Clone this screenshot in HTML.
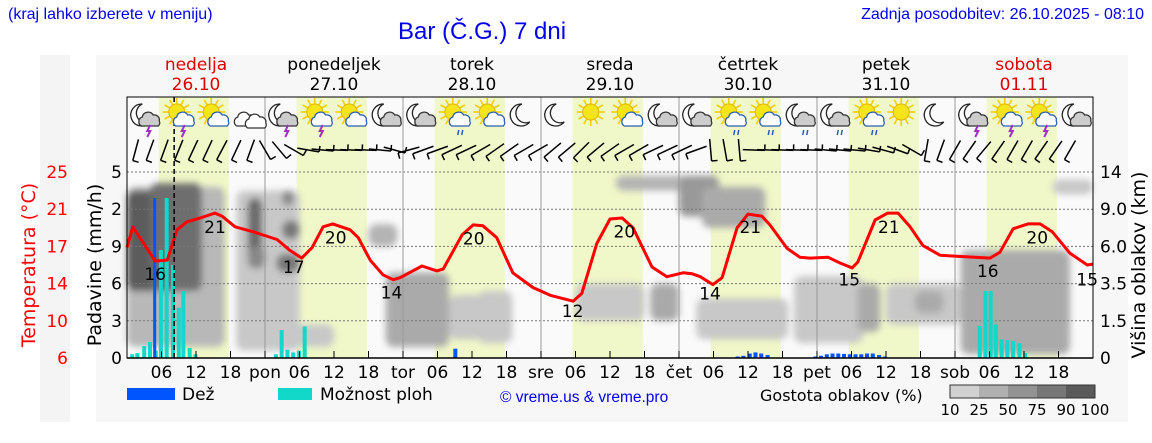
<!DOCTYPE html>
<html><head><meta charset="utf-8">
<style>
body{margin:0;width:1152px;height:443px;background:#fff;overflow:hidden;position:relative;font-family:"DejaVu Sans",sans-serif}
.t{position:absolute;white-space:nowrap}
</style></head>
<body>
<div class="t" style="left:8px;top:6px;font:16px 'Liberation Sans',sans-serif;color:#0000ee">(kraj lahko izberete v meniju)</div>
<div class="t" style="left:398px;top:18px;font:24px 'Liberation Sans',sans-serif;color:#0000ee">Bar (Č.G.) 7 dni</div>
<div class="t" style="right:8px;top:6px;font:16px 'Liberation Sans',sans-serif;color:#0000ee">Zadnja posodobitev: 26.10.2025 - 08:10</div>
<svg id="c" width="1152" height="443" style="position:absolute;left:0;top:0"></svg>
<script>
// ---- data ----
const dayNames=["nedelja","ponedeljek","torek","sreda","četrtek","petek","sobota"];
const dayDates=["26.10","27.10","28.10","29.10","30.10","31.10","01.11"];
const dayAbbr=["","pon","tor","sre","čet","pet","sob"];
const tempHours=[0,1,4.9,7,8.7,10.4,12.7,15.3,16.5,18.8,21.9,26.1,28.3,30.4,32.2,34.1,35.8,38.8,40.2,42.3,44.5,46.3,47.5,51.3,53.9,55,58.3,60.2,61.9,64.3,67.1,70.6,73.6,77.6,79.1,81.7,84,86.1,88,91.3,93.9,96.7,98.3,99.7,101.9,103.5,106.1,108,110.4,111.8,114.8,117,118.8,121.9,124,126.1,127.1,130.1,132.3,134.1,136.2,138.4,141.4,144.3,150.1,151.8,154.1,156.7,158.8,160.9,164,167,168];
const tempValues=[17.3,19.4,15.9,16.0,19.1,19.9,20.3,20.8,20.5,19.4,18.9,18.1,17.0,16.2,17.3,19.4,19.7,19.1,18.3,16.0,14.5,14.0,14.2,15.4,14.9,15.1,18.6,19.6,19.5,18.3,14.7,13.2,12.4,11.8,12.6,17.7,20.2,20.3,19.3,15.3,14.3,14.7,14.6,14.3,13.5,14.2,19.3,20.7,20.5,19.6,17.2,16.3,16.2,16.3,15.7,15.2,15.8,20.1,20.8,20.8,19.4,17.5,16.5,16.4,16.2,16.8,19.2,19.7,19.7,18.9,16.7,15.5,15.6];
const tempLabelHours=[4.9,15.3,29,36.3,46,60.3,77.5,86.5,101.4,108.4,125.6,132.5,149.7,158.3,167];
const tempLabelTexts=["16","21","17","20","14","20","12","20","14","21","15","21","16","20","15"];
const tempLabelValues=[14.6,19.4,15.3,18.3,12.7,18.2,10.8,18.9,12.6,19.4,14.0,19.4,14.9,18.3,14.0];
const showerHours=[0.9,1.8,3,4,5,5.9,6.9,8,9,9.8,10.9,11.9,25.9,26.9,27.9,28.9,29.9,30.9,148.3,149.3,150.2,151.1,152.1,153.1,154.1,155.2,156.2];
const showerValues=[0.1,0.13,0.32,0.43,0.2,2.9,4.3,2.5,1.35,1.8,0.27,0.1,0.1,0.75,0.22,0.15,0.2,0.85,0.86,1.8,1.8,0.9,0.5,0.48,0.46,0.4,0.13];
const rainHours=[4.9,57.1,106.2,107.2,108.3,109.3,110.3,111.4,119.7,120.7,121.7,122.7,123.7,124.7,125.7,126.7,127.7,128.7,129.7,130.8,131.8];
const rainValues=[4.3,0.25,0.04,0.06,0.12,0.15,0.12,0.08,0.04,0.06,0.1,0.12,0.12,0.11,0.1,0.1,0.1,0.12,0.12,0.08,0.04];
// cloud blobs: startHour,endHour,topVal,bottomVal,shade
const cloudH0=[0,0,4,19,21,27,21,27,26,28,42,45,56,61,78,85,91,96,99,100,116,127,132,137,145,161];
const cloudH1=[17,7,13,30,23.5,30,24,29,30,36,47,56,63,67,90,98,96,103,115,111,128,131,145,142,164,168];
const cloudV0=[0.3,1.8,1.8,0.2,2.6,3.2,2.4,4.1,2.3,0.3,3.0,0.3,0.5,0.4,1.0,4.5,1.0,3.8,0.5,3.5,0.4,0.7,0.9,1.2,0.1,4.4];
const cloudV1=[4.6,4.5,4.7,4.5,4.3,3.7,3.0,4.5,2.8,0.9,3.6,2.3,1.7,1.8,2.0,4.9,2.0,4.9,1.6,4.6,2.2,2.0,2.0,1.8,2.9,4.8];
const cloudShade=["#b8b8b8","#5c5c5c","#6e6e6e","#c8c8c8","#6a6a6a","#777","#888","#888","#777","#c8c8c8","#b4b4b4","#aaa","#c8c8c8","#c8c8c8","#c8c8c8","#b4b4b4","#aaa","#999","#c8c8c8","#aaa","#c8c8c8","#aaa","#c8c8c8","#aaa","#aaa","#c8c8c8"];
const windDir=[75,70,70,68,65,65,62,65,70,120,130,150,170,175,178,178,178,175,165,15,20,20,25,25,30,35,35,30,30,40,40,45,40,35,30,30,25,25,25,20,95,100,95,178,178,178,178,178,175,175,175,170,165,160,150,80,70,60,55,50,55,60,60,55,55,60];
const iconTypes=["mct","sct","sc","c","mct","sct","sc","mc","mc","scr","sc","m","m","s","sc","mc","mc","scr","scr","mcr","mcr","scr","s","m","mct","sct","sct","mc"];
// ---- axes ----
const X0=127,X1=1093,YT=97,Y0=358,YS=37.2;
const xh=h=>X0+h*(X1-X0)/168;
const yv=v=>Y0-v*YS;
const yt=t=>Y0-(t-6)*186/19;
const svg=document.getElementById('c');
const NS='http://www.w3.org/2000/svg';
function mk(tag,attrs,parent){const e=document.createElementNS(NS,tag);for(const k in attrs)e.setAttribute(k,attrs[k]);(parent||svg).appendChild(e);return e;}
function txt(s,attrs,parent){const e=mk('text',attrs,parent);e.textContent=s;return e;}
let r=mk('rect',{x:40,y:55,width:30,height:367,fill:'#f4f4f4'});


r=mk('rect',{x:96,y:55,width:1032,height:367,fill:'#f7f7f7'});


r=mk('rect',{x:X0,y:YT,width:X1-X0,height:Y0-YT,fill:'#fafafa'});


for(let d=0;d<7;d++){
 const b=mk('rect',{x:xh(d*24+5.5),y:YT,width:xh(17.7)-xh(5.5),height:Y0-YT,fill:'#f0f7c8'});
 
 
}
const defs=mk('defs',{});
const f=mk('filter',{id:'bl',x:'-20%',y:'-20%',width:'140%',height:'140%'},defs);
mk('feGaussianBlur',{stdDeviation:'3.5'},f);
const cg=mk('g',{filter:'url(#bl)'});


for(let i=0;i<cloudH0.length;i++){
 const x=xh(cloudH0[i]),w=xh(cloudH1[i])-x,y=yv(cloudV1[i]),h=yv(cloudV0[i])-y;
 const e=mk('rect',{x:x,y:y,width:w,height:h,rx:Math.min(8,w/2),fill:cloudShade[i]},cg);
 
 
}
for(let v=1;v<=5;v++){
 const g=mk('line',{x1:X0,x2:X1,y1:yv(v),y2:yv(v),stroke:'#777','stroke-dasharray':'2,2','stroke-width':1});
 
 
}
for(let d=1;d<7;d++){
 const g=mk('line',{x1:xh(d*24),x2:xh(d*24),y1:YT,y2:Y0,stroke:'#999','stroke-width':1});
 
 
}
for(let i=0;i<showerHours.length;i++){
 const b=mk('rect',{x:xh(showerHours[i])-2,y:yv(showerValues[i]),width:4,height:showerValues[i]*YS,fill:'#11d8c8'});
 
 
}
for(let i=0;i<rainHours.length;i++){
 const b=mk('rect',{x:xh(rainHours[i])-2,y:yv(rainValues[i]),width:rainValues[i]>1?3:4,height:rainValues[i]*YS,fill:'#0055ff'});
 
 
}
let p='';for(let i=0;i<tempHours.length;i++)p+=(i?'L':'M')+xh(tempHours[i]).toFixed(1)+','+yt(tempValues[i]).toFixed(1);
const tl=mk('path',{d:p,fill:'none',stroke:'#ff0000','stroke-width':3,'stroke-linejoin':'round'});


for(let i=0;i<tempLabelTexts.length;i++){
 const t=txt(tempLabelTexts[i],{x:xh(tempLabelHours[i]),y:yt(tempLabelValues[i])+6,'text-anchor':'middle','font-size':17,fill:'#000'});
 
 
}
const nl=mk('line',{x1:xh(8.2),x2:xh(8.2),y1:YT,y2:Y0,stroke:'#000','stroke-width':1.5,'stroke-dasharray':'5,3'});


function icon(t,cx,cy){
 const g=mk('g',{});
 
 
 if(t[0]=='m'){mk('path',{d:`M${cx-2},${cy-12} A11,11 0 1 0 ${cx+6},${cy+6} A9,9 0 1 1 ${cx-2},${cy-12}Z`,fill:'#fff',stroke:'#222','stroke-width':1.3},g);}
 if(t[0]=='s'){for(let a=0;a<360;a+=30){const r1=8,r2=14,ra=a*Math.PI/180;mk('line',{x1:cx-2+r1*Math.cos(ra),y1:cy-4+r1*Math.sin(ra),x2:cx-2+r2*Math.cos(ra),y2:cy-4+r2*Math.sin(ra),stroke:'#f0d000','stroke-width':1.6},g);}
  mk('circle',{cx:cx-2,cy:cy-4,r:8,fill:'#f5e41a',stroke:'#e0b800'},g);}
 if(t.indexOf('c')>0||t=='c'){const s=t[0]=='s'?'#2a5db0':'#333';
  const ox=t=='c'?cx-2:cx+6, oy=cy+4;
  mk('path',{d:`M${ox-9},${oy+6} a5,5 0 0 1 1,-9 a6,6 0 0 1 11,-2 a5,5 0 0 1 6,6 a4,4 0 0 1 -1,5 Z`,fill:t[0]=='m'?'#ccc':'#fff',stroke:s,'stroke-width':1.3},g);
  if(t=='c')mk('path',{d:`M${ox+2},${oy+8} a5,5 0 0 1 1,-9 a6,6 0 0 1 11,-2 a5,5 0 0 1 6,6 a4,4 0 0 1 -1,5 Z`,fill:'#fff',stroke:'#333','stroke-width':1.3},g);
 }
 if(t[t.length-1]=='t')mk('path',{d:`M${cx+6},${cy+9} l-3,6 h3 l-3,6`,fill:'none',stroke:'#a030c0','stroke-width':2},g);
 if(t[t.length-1]=='r'){mk('line',{x1:cx+4,y1:cy+14,x2:cx+3,y2:cy+19,stroke:'#2a5db0','stroke-width':1.5},g);mk('line',{x1:cx+8,y1:cy+14,x2:cx+7,y2:cy+19,stroke:'#2a5db0','stroke-width':1.5},g);}
}
for(let i=0;i<iconTypes.length;i++)icon(iconTypes[i],xh(3+i*6),116);
for(let i=0;i<windDir.length;i++){
 const cx=xh(1.5+i*2.5),cy=150,a=windDir[i]*Math.PI/180,L=11;
 const dx=L*Math.cos(a),dy=L*Math.sin(a);
 const w=mk('g',{});
 
 
 mk('line',{x1:cx-dx,y1:cy+dy,x2:cx+dx,y2:cy-dy,stroke:'#000','stroke-width':1.5},w);
 mk('line',{x1:cx-dx,y1:cy+dy,x2:cx-dx+6*Math.sin(a),y2:cy+dy+6*Math.cos(a),stroke:'#000','stroke-width':1.5},w);
}
const fr=mk('rect',{x:X0,y:YT,width:X1-X0,height:Y0-YT,fill:'none',stroke:'#000','stroke-width':1});


mk('line',{x1:X0,x2:X1,y1:Y0,y2:Y0,stroke:'#000','stroke-width':1.5});
for(let h=0;h<=168;h+=6){
 const tk=mk('line',{x1:xh(h),x2:xh(h),y1:Y0,y2:Y0-7,stroke:'#000'});
 
 
 const hr=h%24; if(h>=168)continue;
 const s=hr==0?dayAbbr[h/24]:String(hr).padStart(2,'0');
 if(!s)continue;
 const t=txt(s,{x:xh(h),y:378,'text-anchor':'middle','font-size':17});
 
 
}
for(let d=0;d<7;d++){
 const col=(d==0||d==6)?'#dd0000':'#000';
 let t=txt(dayNames[d],{x:xh(d*24+12),y:70,'text-anchor':'middle','font-size':17,fill:col});
 
 
 t=txt(dayDates[d],{x:xh(d*24+12),y:90,'text-anchor':'middle','font-size':17,fill:col});
 
 
}
const tempTicks=["6","10","14","17","21","25"],precTicks=["0","3","6","9","2","5"],cloudTicks=["0","1.5","3.5","6.0","9.0","14"];
for(let i=0;i<6;i++){
 let t=txt(tempTicks[i],{x:68,y:yv(i)+6,'text-anchor':'end','font-size':17,fill:'#ff0000'});
 
 
 t=txt(precTicks[i],{x:122,y:yv(i)+6,'text-anchor':'end','font-size':17});
 
 
 t=txt(cloudTicks[i],{x:1100,y:yv(i)+6,'font-size':17});
 
 
}
let at=txt('Temperatura (°C)',{x:0,y:0,'text-anchor':'middle','font-size':19,fill:'#ff0000',transform:'translate(35,265) rotate(-90)'});


at=txt('Padavine (mm/h)',{x:0,y:0,'text-anchor':'middle','font-size':19,transform:'translate(101,265) rotate(-90)'});


at=txt('Višina oblakov (km)',{x:0,y:0,'text-anchor':'middle','font-size':19,transform:'translate(1145,265) rotate(-90)'});


let lg=mk('rect',{x:127,y:388,width:48,height:12,fill:'#0055ff'});


lg=txt('Dež',{x:182,y:400,'font-size':17});


lg=mk('rect',{x:278,y:388,width:34,height:12,fill:'#11d8c8'});


lg=txt('Možnost ploh',{x:320,y:400,'font-size':17});


lg=txt('© vreme.us & vreme.pro',{x:500,y:402,'font-size':15.5,fill:'#0000ee','font-family':'Liberation Sans, sans-serif'});


lg=txt('Gostota oblakov (%)',{x:760,y:401,'font-size':16});


const cbShades=["#d0d0d0","#b0b0b0","#939393","#777","#5a5a5a"],cbLabels=["10","25","50","75","90","100"];
for(let i=0;i<5;i++){
 const c=mk('rect',{x:950+i*29,y:385,width:29,height:13,fill:cbShades[i]});
 
 
}
mk('rect',{x:950,y:385,width:145,height:13,fill:'none',stroke:'#333'});
for(let i=0;i<6;i++){
 const t=txt(cbLabels[i],{x:950+i*29,y:415,'text-anchor':'middle','font-size':15});
 
 
}
</script>
</body></html>
